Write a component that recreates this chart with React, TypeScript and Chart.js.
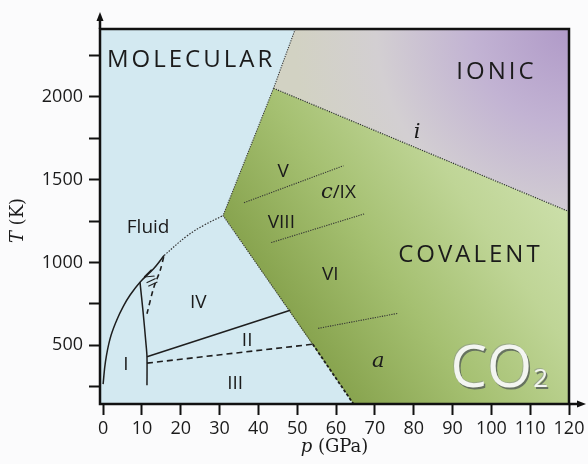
import React, { useEffect, useRef } from 'react';
import { Chart, registerables } from 'chart.js';

Chart.register(...registerables);

// Axis ranges (pressure in GPa, temperature in K)
const P_MIN = -0.8;
const P_MAX = 120;
const T_MIN = 145;
const T_MAX = 2410;

// Tick values
const pressureTicks = [0, 10, 20, 30, 40, 50, 60, 70, 80, 90, 100, 110, 120];
const temperatureTicks = [250, 500, 750, 1000, 1250, 1500, 1750, 2000, 2250];
const temperatureLabelled = [500, 1000, 1500, 2000];

// Region outlines [p, T]
const molecularRegion: number[][] = [[P_MIN, T_MIN], [P_MAX, T_MIN], [P_MAX, T_MAX], [P_MIN, T_MAX], [P_MIN, T_MIN]];
const ionicRegion: number[][] = [[49.5, 2410], [120, 2410], [120, 1307], [43.9, 2052], [49.5, 2410]];
const covalentRegion: number[][] = [[43.9, 2052], [120, 1307], [120, 145], [64.5, 145], [30.9, 1283], [43.9, 2052]];

// Phase boundaries [p, T]
const meltingSolid: number[][] = [[0, 265], [0.6, 400], [1.8, 540], [3.5, 651], [5.2, 735], [7.0, 805], [9.5, 881], [13.0, 962], [15.7, 1042]];
const meltingDotted: number[][] = [[15.7, 1042], [21.6, 1160], [26.0, 1225], [30.9, 1283]];
const lineI_IV: number[][] = [[9.5, 881], [10.3, 700], [11.0, 520], [11.3, 430], [11.3, 259]];
const lineVII: number[][] = [[11.3, 690], [13.0, 845], [14.7, 952], [15.7, 1042]];
const lineIV_II: number[][] = [[11.3, 430], [48.2, 711]];
const lineII_III: number[][] = [[11.3, 392], [54.0, 506]];
const molCovUpper: number[][] = [[43.9, 2052], [30.9, 1283], [54.0, 506]];
const molCovLower: number[][] = [[54.0, 506], [64.5, 145]];
const molIonic: number[][] = [[49.5, 2410], [43.9, 2052]];
const lineIonicCov: number[][] = [[43.9, 2052], [120, 1307]];
const lineV: number[][] = [[36.3, 1361], [61.9, 1584]];
const lineVIII: number[][] = [[43.3, 1120], [67.5, 1295]];
const lineVIa: number[][] = [[55.4, 602], [76.0, 693]];

const SANS = '"Open Sans", "Noto Sans", sans-serif';
const SERIF = '"DejaVu Serif", "Liberation Serif", serif';

type Part = [string, string];
interface PhaseLabel { parts: Part[]; p: number; T: number; kind: string; angle?: number }

// Phase names placed at [p, T]
const phaseLabels: PhaseLabel[] = [
  { parts: [['MOLECULAR', 'big']], p: 1.0, T: 2223, kind: 'left' },
  { parts: [['IONIC', 'big']], p: 101.3, T: 2150, kind: 'center' },
  { parts: [['COVALENT', 'big']], p: 94.6, T: 1042, kind: 'center' },
  { parts: [['Fluid', 'mid']], p: 11.6, T: 1211, kind: 'center' },
  { parts: [['V', 'mid']], p: 46.4, T: 1548, kind: 'center' },
  { parts: [['c', 'ital'], ['/IX', 'mid']], p: 60.6, T: 1422, kind: 'center' },
  { parts: [['VIII', 'mid']], p: 45.9, T: 1241, kind: 'center' },
  { parts: [['VI', 'mid']], p: 58.5, T: 928, kind: 'center' },
  { parts: [['a', 'ital']], p: 70.9, T: 404, kind: 'center' },
  { parts: [['i', 'ital']], p: 80.9, T: 1783, kind: 'center' },
  { parts: [['IV', 'mid']], p: 24.5, T: 759, kind: 'center' },
  { parts: [['II', 'mid']], p: 37.1, T: 530, kind: 'center' },
  { parts: [['III', 'mid']], p: 34.0, T: 271, kind: 'center' },
  { parts: [['I', 'mid']], p: 5.9, T: 380, kind: 'center' },
  { parts: [['VII', 'small']], p: 11.9, T: 900, kind: 'center', angle: 65 },
];

const FONTS: Record<string, string> = {
  big: `24px ${SANS}`,
  mid: `19px ${SANS}`,
  small: `14px ${SANS}`,
  ital: `italic 21px ${SERIF}`,
};

const toXY = (pts: number[][]) => pts.map(([x, y]) => ({ x, y }));

function lineSet(pts: number[][], width: number, dash: number[], color = '#1e1e1e', tension = 0) {
  return {
    data: toXY(pts),
    showLine: true,
    pointRadius: 0,
    borderColor: color,
    borderWidth: width,
    borderDash: dash,
    tension,
    fill: false,
    order: 1,
  };
}

function regionSet(pts: number[][], paint: (chart: any) => any, fallback: string, order: number) {
  return {
    data: toXY(pts),
    showLine: true,
    pointRadius: 0,
    borderColor: 'transparent',
    borderWidth: 0,
    fill: 'shape',
    backgroundColor: (c: any) => paint(c.chart) || fallback,
    order,
  };
}

function pix(chart: any, p: number, t: number): number[] | null {
  const { x, y } = chart.scales || {};
  if (!x || !y) return null;
  const r = [x.getPixelForValue(p), y.getPixelForValue(t)];
  return r.every((v) => Number.isFinite(v)) ? r : null;
}

function linearGrad(chart: any, p0: number, t0: number, p1: number, t1: number, stops: [number, string][]) {
  const a = pix(chart, p0, t0);
  const b = pix(chart, p1, t1);
  if (!a || !b || (a[0] === b[0] && a[1] === b[1])) return null;
  const g = chart.ctx.createLinearGradient(a[0], a[1], b[0], b[1]);
  stops.forEach(([o, col]) => g.addColorStop(o, col));
  return g;
}

function radialGrad(chart: any, p0: number, t0: number, pr: number, tr: number, stops: [number, string][]) {
  const a = pix(chart, p0, t0);
  const b = pix(chart, pr, tr);
  if (!a || !b) return null;
  const r = Math.hypot(b[0] - a[0], b[1] - a[1]);
  if (!(r > 0)) return null;
  const g = chart.ctx.createRadialGradient(a[0], a[1], 0, a[0], a[1], r);
  stops.forEach(([o, col]) => g.addColorStop(o, col));
  return g;
}

const backdrop = {
  id: 'backdrop',
  beforeDraw(chart: any) {
    const ctx = chart.ctx;
    ctx.save();
    ctx.fillStyle = '#fbfbfc';
    ctx.fillRect(0, 0, chart.width, chart.height);
    ctx.restore();
  },
};

function drawParts(ctx: CanvasRenderingContext2D, parts: Part[], x: number, y: number, align: string) {
  const spacing = (f: string) => (f === 'big' ? '3px' : '0px');
  let total = 0;
  const widths = parts.map(([t, f]) => {
    ctx.font = FONTS[f];
    (ctx as any).letterSpacing = spacing(f);
    const w = ctx.measureText(t).width;
    total += w;
    return w;
  });
  let cx = align === 'left' ? x : x - total / 2;
  parts.forEach(([t, f], i) => {
    ctx.font = FONTS[f];
    (ctx as any).letterSpacing = spacing(f);
    ctx.fillText(t, cx, y);
    cx += widths[i];
  });
  (ctx as any).letterSpacing = '0px';
}

const annotations = {
  id: 'annotations',
  afterDatasetsDraw(chart: any) {
    const { ctx, chartArea: a, scales: { x, y } } = chart;
    ctx.save();
    ctx.fillStyle = '#1b1b1b';
    ctx.textBaseline = 'middle';
    ctx.textAlign = 'left';
    phaseLabels.forEach((l) => {
      const px = x.getPixelForValue(l.p);
      const py = y.getPixelForValue(l.T);
      if (l.angle) {
        ctx.save();
        ctx.translate(px, py);
        ctx.rotate((l.angle * Math.PI) / 180);
        drawParts(ctx, l.parts, 0, 0, 'center');
        ctx.restore();
      } else {
        drawParts(ctx, l.parts, px, py, l.kind);
      }
    });

    // CO2 emblem
    const cx = x.getPixelForValue(89.5);
    const cy = y.getPixelForValue(247);
    ctx.textBaseline = 'alphabetic';
    ctx.font = `58px ${SANS}`;
    const wCO = ctx.measureText('CO').width;
    const draw = (dx: number, dy: number, color: string) => {
      ctx.fillStyle = color;
      ctx.font = `58px ${SANS}`;
      ctx.fillText('CO', cx + dx, cy + dy);
      ctx.font = `26px ${SANS}`;
      ctx.fillText('2', cx + wCO + 1 + dx, cy + dy);
    };
    draw(1.5, 1.5, 'rgba(90,100,90,0.85)');
    draw(-0.8, -0.8, 'rgba(140,150,140,0.6)');
    draw(0, 0, '#f3f5f1');
    ctx.restore();

    // frame and axis arrows
    ctx.save();
    ctx.strokeStyle = '#111';
    ctx.fillStyle = '#111';
    ctx.lineWidth = 2.5;
    ctx.strokeRect(a.left, a.top, a.right - a.left, a.bottom - a.top);
    ctx.beginPath();
    ctx.moveTo(a.left, a.top);
    ctx.lineTo(a.left, a.top - 11);
    ctx.moveTo(a.right, a.bottom);
    ctx.lineTo(a.right + 11, a.bottom);
    ctx.stroke();
    ctx.beginPath();
    ctx.moveTo(a.left, a.top - 17);
    ctx.lineTo(a.left - 3.5, a.top - 8);
    ctx.lineTo(a.left + 3.5, a.top - 8);
    ctx.closePath();
    ctx.fill();
    ctx.beginPath();
    ctx.moveTo(a.right + 17, a.bottom);
    ctx.lineTo(a.right + 8, a.bottom - 3.5);
    ctx.lineTo(a.right + 8, a.bottom + 3.5);
    ctx.closePath();
    ctx.fill();

    // axis titles
    ctx.fillStyle = '#1b1b1b';
    ctx.textBaseline = 'middle';
    const tParts: Part[] = [['T', `italic 18px ${SERIF}`], [' (K)', `18px ${SERIF}`]];
    const pParts: Part[] = [['p', `italic 18px ${SERIF}`], [' (GPa)', `18px ${SERIF}`]];
    const rich = (parts: Part[], ox: number, oy: number) => {
      let total = 0;
      const ws = parts.map(([t, f]) => { ctx.font = f; const w = ctx.measureText(t).width; total += w; return w; });
      let sx = ox - total / 2;
      parts.forEach(([t, f], i) => { ctx.font = f; ctx.fillText(t, sx, oy); sx += ws[i]; });
    };
    ctx.save();
    ctx.translate(a.left - 82, (a.top + a.bottom) / 2 + 4);
    ctx.rotate(-Math.PI / 2);
    rich(tParts, 0, 0);
    ctx.restore();
    rich(pParts, (a.left + a.right) / 2, a.bottom + 43);
    ctx.restore();
  },
};

export default function App() {
  const ref = useRef<HTMLCanvasElement>(null);

  useEffect(() => {
    const canvas = ref.current;
    if (!canvas) return;
    const chart = new Chart(canvas, {
      type: 'scatter',
      data: {
        datasets: [
          regionSet(molecularRegion, () => '#d3e9f1', '#d3e9f1', 12),
          regionSet(
            ionicRegion,
            (c) => radialGrad(c, 120, 2410, 50, 2150, [[0, '#b09ac8'], [0.35, '#c2b3d3'], [0.7, '#d3cfd2'], [1, '#d2d2c3']]),
            '#cdc3d3',
            11,
          ),
          regionSet(
            covalentRegion,
            (c) => linearGrad(c, 30.9, 1283, 93.8, 2307, [[0, '#88a44f'], [0.35, '#a5c071'], [0.7, '#bfd596'], [1, '#cde0ac']]),
            '#a9c474',
            10,
          ),
          lineSet(meltingSolid, 1.5, [], '#1e1e1e', 0.4),
          lineSet(meltingDotted, 1.2, [1.5, 1.5], '#333', 0.4),
          lineSet(lineI_IV, 1.5, [], '#1e1e1e', 0.3),
          lineSet(lineVII, 1.6, [5, 4], '#1e1e1e', 0.3),
          lineSet(lineIV_II, 1.5, []),
          lineSet(lineII_III, 1.6, [6, 4]),
          lineSet(molCovUpper, 1.1, [1.2, 1.2], '#3a3a3a'),
          lineSet(molCovLower, 1.8, [3, 2]),
          lineSet(molIonic, 1.1, [1.2, 1.2], '#3a3a3a'),
          lineSet(lineIonicCov, 1.2, [1.2, 1.2], '#333'),
          lineSet(lineV, 1.1, [1.2, 1.2], '#333'),
          lineSet(lineVIII, 1.1, [1.2, 1.2], '#333'),
          lineSet(lineVIa, 1.1, [1.2, 1.2], '#333'),
        ] as any,
      },
      options: {
        animation: false,
        responsive: false,
        devicePixelRatio: 1,
        layout: { padding: { left: 0, right: 19, top: 29, bottom: 0 } },
        plugins: { legend: { display: false }, tooltip: { enabled: false } },
        scales: {
          x: {
            type: 'linear',
            min: P_MIN,
            max: P_MAX,
            afterBuildTicks: (s: any) => { s.ticks = pressureTicks.map((v) => ({ value: v })); },
            afterFit: (s: any) => { s.height = 60; },
            border: { display: false },
            grid: { drawOnChartArea: false, drawTicks: true, tickLength: 11, tickWidth: 2, tickColor: '#111' },
            ticks: { padding: 3, color: '#1b1b1b', font: { family: SANS, size: 18 }, maxRotation: 0, autoSkip: false },
          },
          y: {
            type: 'linear',
            min: T_MIN,
            max: T_MAX,
            afterBuildTicks: (s: any) => { s.ticks = temperatureTicks.map((v) => ({ value: v })); },
            afterFit: (s: any) => { s.width = 100; },
            border: { display: false },
            grid: { drawOnChartArea: false, drawTicks: true, tickLength: 11, tickWidth: 2, tickColor: '#111' },
            ticks: {
              padding: 6,
              color: '#1b1b1b',
              font: { family: SANS, size: 18 },
              autoSkip: false,
              callback: (v: any) => (temperatureLabelled.includes(Number(v)) ? String(v) : ''),
            },
          },
        },
      } as any,
      plugins: [backdrop, annotations],
    });
    return () => chart.destroy();
  }, []);

  return (
    <div style={{ position: 'fixed', left: 0, top: 0, width: 588, height: 464 }}>
      <canvas ref={ref} width={588} height={464} style={{ display: 'block', width: 588, height: 464 }} />
    </div>
  );
}
